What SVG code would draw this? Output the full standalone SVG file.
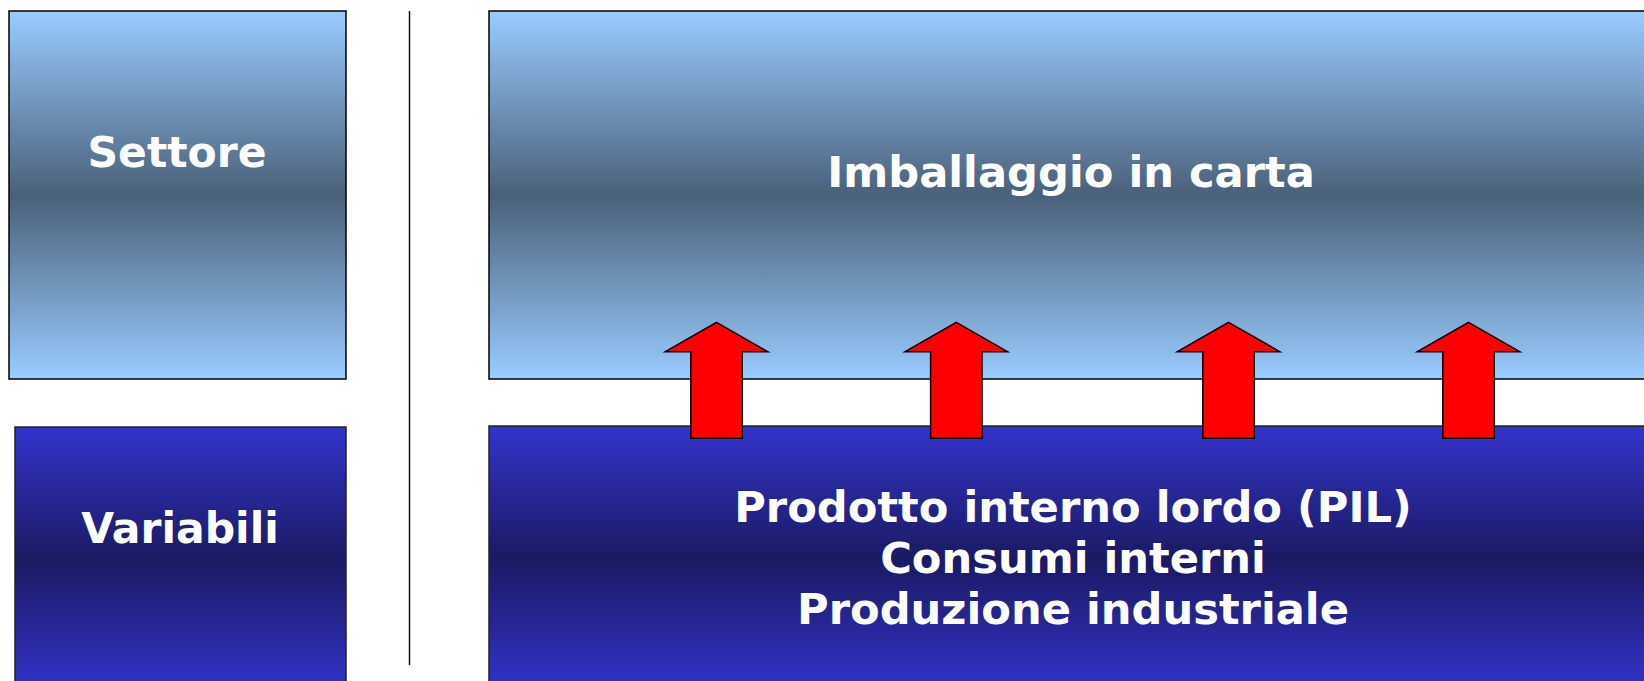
<svg xmlns="http://www.w3.org/2000/svg" width="1644" height="681" viewBox="0 0 1644 681">
<defs>
<linearGradient id="gTop" x1="0" y1="0" x2="0" y2="1">
<stop offset="0" stop-color="#99CCFF"/>
<stop offset="0.5" stop-color="#4A6079"/>
<stop offset="1" stop-color="#99CCFF"/>
</linearGradient>
<linearGradient id="gBot" x1="0" y1="0" x2="0" y2="1">
<stop offset="0" stop-color="#3333CC"/>
<stop offset="0.5" stop-color="#1A1A63"/>
<stop offset="1" stop-color="#3333CC"/>
</linearGradient>
<path id="arrow" d="M0,0 L51.3,29.4 L25.7,29.4 L25.7,116 L-25.7,116 L-25.7,29.4 L-51.3,29.4 Z"/>
</defs>
<style>
.top{fill:url(#gTop);stroke:#000;stroke-width:1.5}
.bot{fill:url(#gBot);stroke:#222;stroke-width:1.5}
.lbl{font-family:"DejaVu Sans",Verdana,sans-serif;font-weight:bold;font-size:42.5px;fill:#fff;text-anchor:middle}
.big{font-size:43.2px}
.arr{fill:#FF0000;stroke:#000;stroke-width:1.5;stroke-linejoin:miter}
</style>
<rect width="1644" height="681" fill="#fff"/>
<g id="settore">
<rect class="top" x="9" y="11" width="337" height="368"/>
<text class="lbl" x="177" y="166.7">Settore</text>
</g>
<g id="variabili">
<rect class="bot" x="15" y="427" width="331" height="266"/>
<text class="lbl" x="180" y="543.3">Variabili</text>
</g>
<g id="divider">
<line x1="409.5" y1="11" x2="409.5" y2="665" stroke="#111" stroke-width="1.5"/>
</g>
<g id="imballaggio">
<rect class="top" x="489" y="11" width="1200" height="368"/>
<text class="lbl big" x="1071" y="186.7">Imballaggio in carta</text>
</g>
<g id="indicatori">
<rect class="bot" x="489" y="426" width="1200" height="266"/>
<text class="lbl big" x="1073" y="521.7">Prodotto interno lordo (PIL)</text>
<text class="lbl big" x="1073" y="573.3">Consumi interni</text>
<text class="lbl big" x="1073" y="624.3">Produzione industriale</text>
</g>
<g id="connectors">
<use href="#arrow" class="arr" x="716.5" y="322.3"/>
<use href="#arrow" class="arr" x="956.3" y="322.3"/>
<use href="#arrow" class="arr" x="1228.5" y="322.3"/>
<use href="#arrow" class="arr" x="1468.5" y="322.3"/>
</g>
</svg>
